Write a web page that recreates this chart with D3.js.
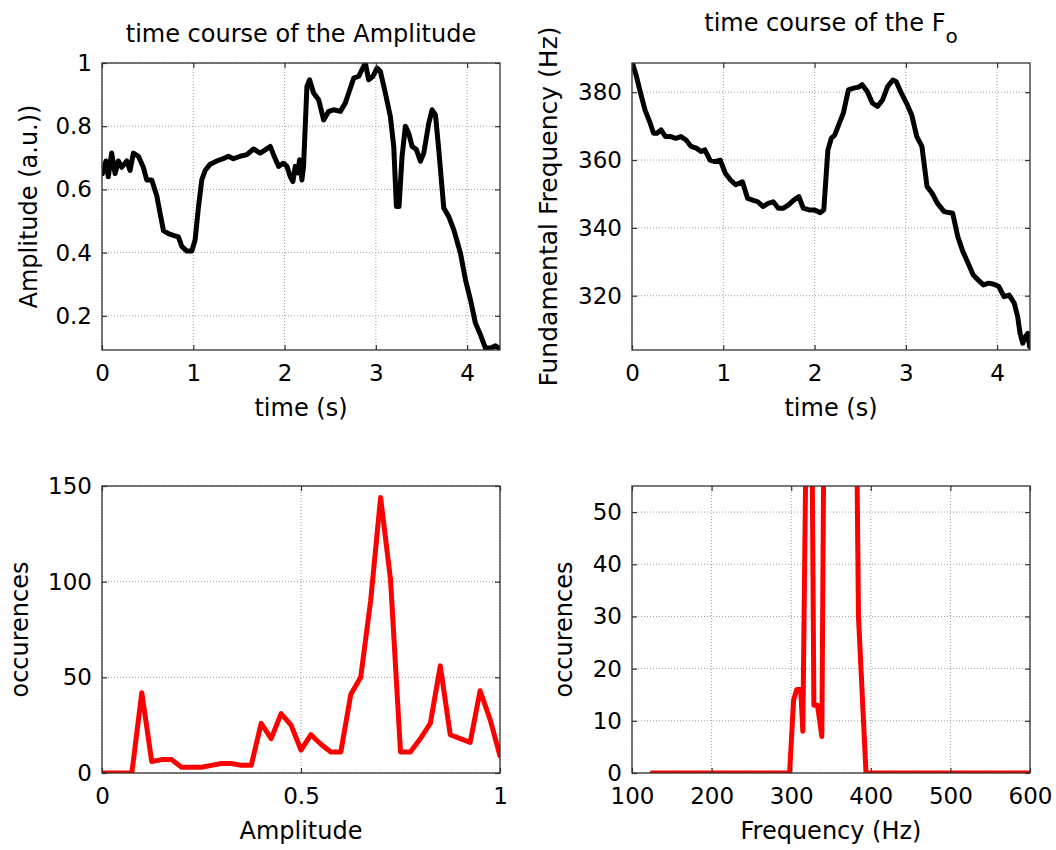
<!DOCTYPE html>
<html>
<head>
<meta charset="utf-8">
<script src="https://cdn.jsdelivr.net/npm/d3@7"></script>
<style>
  body { margin: 0; background: #fff; }
  text { font-family: "DejaVu Sans", sans-serif; fill: #000; }
</style>
</head>
<body>
<svg id="fig" width="1056" height="850"></svg>
<script>
// amplitude time course (s, a.u.)
var ampTime = [0.005,0.044,0.069,0.106,0.143,0.179,0.216,0.271,0.307,0.344,
  0.399,0.453,0.49,0.545,0.6,0.636,0.673,0.728,0.782,0.837,
  0.874,0.929,0.984,1.02,1.057,1.093,1.13,1.185,1.258,1.349,
  1.386,1.44,1.514,1.587,1.66,1.733,1.788,1.843,1.879,1.934,
  1.989,2.026,2.062,2.091,2.117,2.143,2.165,2.19,2.208,2.245,
  2.274,2.318,2.373,2.428,2.483,2.537,2.611,2.665,2.72,2.757,
  2.812,2.867,2.885,2.921,2.969,3.013,3.049,3.104,3.159,3.196,
  3.225,3.254,3.287,3.324,3.36,3.397,3.444,3.488,3.525,3.58,
  3.616,3.653,3.689,3.744,3.799,3.854,3.927,3.982,4.037,4.091,
  4.146,4.201,4.256,4.311,4.347];
var ampValue = [0.65,0.69,0.64,0.715,0.65,0.69,0.67,0.69,0.66,0.715,
  0.705,0.67,0.63,0.63,0.58,0.525,0.47,0.46,0.455,0.45,
  0.42,0.405,0.405,0.44,0.545,0.63,0.66,0.68,0.69,0.70,
  0.705,0.697,0.705,0.71,0.728,0.715,0.725,0.736,0.71,0.673,
  0.683,0.673,0.641,0.625,0.673,0.652,0.694,0.63,0.673,0.926,
  0.947,0.905,0.884,0.82,0.847,0.852,0.847,0.873,0.92,0.952,
  0.958,0.99,1.0,0.947,0.958,0.984,0.974,0.905,0.831,0.736,
  0.546,0.546,0.705,0.80,0.778,0.736,0.726,0.689,0.715,0.81,
  0.852,0.836,0.726,0.541,0.514,0.472,0.398,0.314,0.25,0.177,
  0.14,0.098,0.098,0.105,0.098];

// fundamental frequency time course (s, Hz)
var f0Time = [0.005,0.049,0.094,0.142,0.199,0.236,0.273,0.318,0.367,0.423,
  0.479,0.536,0.592,0.648,0.704,0.76,0.798,0.854,0.91,0.966,
  1.022,1.079,1.135,1.21,1.266,1.322,1.378,1.434,1.491,1.547,
  1.603,1.659,1.715,1.772,1.828,1.876,1.94,1.996,2.064,2.101,
  2.146,2.184,2.221,2.258,2.315,2.371,2.427,2.483,2.521,2.577,
  2.633,2.689,2.745,2.801,2.858,2.895,2.951,3.007,3.064,3.12,
  3.176,3.232,3.288,3.345,3.419,3.513,3.569,3.625,3.682,3.738,
  3.794,3.85,3.906,3.963,4.019,4.075,4.131,4.187,4.225,4.251,
  4.281,4.311,4.337,4.356];
var f0Value = [388.6,384.6,379.7,374.8,370.9,367.9,367.9,368.9,366.9,366.9,
  366.4,366.9,365.9,364.0,363.5,362.5,363.0,360.0,359.5,360.0,
  356.1,354.1,352.7,353.6,348.7,348.2,347.7,346.3,347.2,347.7,
  345.8,345.8,346.8,348.2,349.2,345.8,345.3,345.3,344.5,345.3,
  363.0,366.4,367.4,369.9,373.8,380.7,381.2,381.5,382.2,380.2,
  376.8,375.8,377.7,381.7,383.6,383.1,379.7,376.8,373.3,366.9,
  364.0,352.2,350.2,347.3,344.8,344.3,337.4,333.0,329.6,326.1,
  324.6,323.2,323.7,323.4,322.7,319.7,320.2,317.8,313.8,308.9,
  306.0,308.0,308.9,305.0];

// amplitude histogram
var ampBins = [0,0.025,0.05,0.075,0.1,0.125,0.15,0.175,0.2,0.225,
  0.25,0.275,0.3,0.325,0.35,0.375,0.4,0.425,0.45,0.475,
  0.5,0.525,0.55,0.575,0.6,0.625,0.65,0.675,0.7,0.725,
  0.75,0.775,0.8,0.825,0.85,0.875,0.9,0.925,0.95,0.975,1];
var ampCounts = [0,0,0,0,42,6,7,7,3,3,
  3,4,5,5,4,4,26,18,31,25,
  12,20,15,11,11,41,50,90,144,101,
  11,11,18,26,56,20,18,16,43,28,9];

// frequency histogram (values above 55 run off the top of the axes)
var freqBins = [125,298,303,307,312,314.6,320.5,324.5,328.5,333,
  338.5,343,347,351,355,360,364,368,372,376,380,384.5,394,600];
var freqCounts = [0,0,14,16,16,8,90,100,13,13,
  7,110,95,70,60,75,70,80,65,85,100,30,0,0];

var timeTicks = [0,1,2,3,4];
var ampTicks = [0.2,0.4,0.6,0.8,1];
var f0Ticks = [320,340,360,380];
var ampHistXTicks = [0,0.5,1];
var ampHistYTicks = [0,50,100,150];
var freqXTicks = [100,200,300,400,500,600];
var freqYTicks = [0,10,20,30,40,50];

var svg = d3.select("#fig");
var W = 398, H = 287;
var clipId = 0;

function panel(p) {
  var g = svg.append("g").attr("transform", "translate(" + p.left + "," + p.top + ")");
  var x = d3.scaleLinear().domain(p.xDomain).range([0, W]);
  var y = d3.scaleLinear().domain(p.yDomain).range([H, 0]);

  // dotted grid
  g.append("g").selectAll("line").data(p.xTicks).enter().append("line")
    .attr("x1", function(d) { return x(d); }).attr("x2", function(d) { return x(d); })
    .attr("y1", 0).attr("y2", H)
    .attr("stroke", "#a0a0a0").attr("stroke-width", 1).attr("stroke-dasharray", "1,2");
  g.append("g").selectAll("line").data(p.yTicks).enter().append("line")
    .attr("y1", function(d) { return y(d); }).attr("y2", function(d) { return y(d); })
    .attr("x1", 0).attr("x2", W)
    .attr("stroke", "#a0a0a0").attr("stroke-width", 1).attr("stroke-dasharray", "1,2");

  // the data line, clipped to the axes
  clipId++;
  g.append("clipPath").attr("id", "clip" + clipId)
    .append("rect").attr("width", W).attr("height", H);
  var pts = p.xs.map(function(d, i) { return [d, p.ys[i]]; });
  g.append("path").datum(pts)
    .attr("clip-path", "url(#clip" + clipId + ")")
    .attr("fill", "none").attr("stroke", p.color).attr("stroke-width", 5)
    .attr("stroke-linejoin", "round").attr("stroke-linecap", "round")
    .attr("d", d3.line().x(function(d) { return x(d[0]); }).y(function(d) { return y(d[1]); }));

  // axes: ticks inward on all four sides
  var fmt = function(d) { return String(d); };
  var bottom = g.append("g").attr("transform", "translate(0," + H + ")")
    .call(d3.axisBottom(x).tickValues(p.xTicks).tickSizeInner(-5).tickSizeOuter(0).tickPadding(15).tickFormat(fmt));
  var left = g.append("g")
    .call(d3.axisLeft(y).tickValues(p.yTicks).tickSizeInner(-5).tickSizeOuter(0).tickPadding(10).tickFormat(fmt));
  var top = g.append("g")
    .call(d3.axisTop(x).tickValues(p.xTicks).tickSizeInner(-5).tickSizeOuter(0).tickFormat(""));
  var right = g.append("g").attr("transform", "translate(" + W + ",0)")
    .call(d3.axisRight(y).tickValues(p.yTicks).tickSizeInner(-5).tickSizeOuter(0).tickFormat(""));
  [bottom, left, top, right].forEach(function(a) {
    a.select(".domain").remove();
    a.selectAll("line").attr("stroke", "#333").attr("stroke-width", 1.2);
    a.selectAll("text").attr("font-size", 23).attr("font-family", "DejaVu Sans").attr("fill", "#000");
  });

  g.append("rect").attr("width", W).attr("height", H)
    .attr("fill", "none").attr("stroke", "#333").attr("stroke-width", 1.3);

  // labels
  g.append("text").attr("x", W / 2).attr("y", H + 66)
    .attr("text-anchor", "middle").attr("font-size", 24).text(p.xLabel);
  g.append("text")
    .attr("transform", "translate(" + p.yLabelX + "," + (H / 2) + ") rotate(-90)")
    .attr("text-anchor", "middle").attr("font-size", p.yLabelSize || 24).text(p.yLabel);

  if (p.title) {
    var t = g.append("text").attr("x", W / 2).attr("y", p.titleY)
      .attr("text-anchor", "middle").attr("font-size", 24);
    t.append("tspan").text(p.title);
    if (p.titleSub) {
      t.append("tspan").attr("dy", 12).attr("font-size", 20).text(p.titleSub);
    }
  }
}

panel({ left: 102, top: 63, xDomain: [0, 4.36], yDomain: [0.092, 1],
  xTicks: timeTicks, yTicks: ampTicks, xs: ampTime, ys: ampValue, color: "#000",
  xLabel: "time (s)", yLabel: "Amplitude (a.u.))", yLabelX: -65,
  title: "time course of the Amplitude", titleY: -21 });

panel({ left: 632, top: 63, xDomain: [0, 4.36], yDomain: [304, 388.6],
  xTicks: timeTicks, yTicks: f0Ticks, xs: f0Time, ys: f0Value, color: "#000",
  xLabel: "time (s)", yLabel: "Fundamental Frequency (Hz)", yLabelX: -75, yLabelSize: 25,
  title: "time course of the F", titleSub: "o", titleY: -32 });

panel({ left: 102, top: 486, xDomain: [0, 1], yDomain: [0, 150],
  xTicks: ampHistXTicks, yTicks: ampHistYTicks, xs: ampBins, ys: ampCounts, color: "#ff0000",
  xLabel: "Amplitude", yLabel: "occurences", yLabelX: -74 });

panel({ left: 632, top: 486, xDomain: [100, 600], yDomain: [0, 55],
  xTicks: freqXTicks, yTicks: freqYTicks, xs: freqBins, ys: freqCounts, color: "#ff0000",
  xLabel: "Frequency (Hz)", yLabel: "occurences", yLabelX: -60 });
</script>
</body>
</html>
